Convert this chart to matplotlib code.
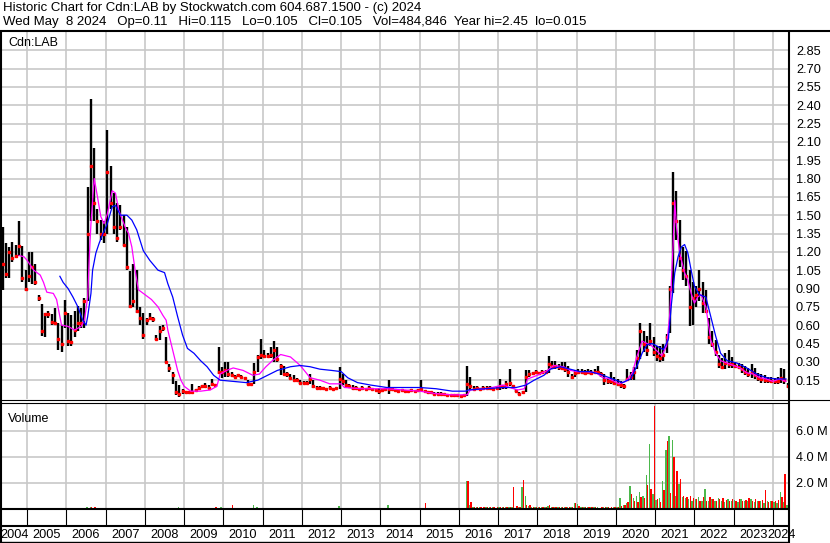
import numpy as np
import matplotlib
matplotlib.use("Agg")
import matplotlib.pyplot as plt
from matplotlib.lines import Line2D

plt.rcParams['font.family'] = ['Liberation Sans', 'DejaVu Sans']

# ---------------- data (monthly, May 2004 .. May 2024) ----------------
years = list(range(2004, 2025))

high = [1.40,1.27,1.24,1.28,1.26,1.45,1.25,1.05,1.20,1.20,
        1.10,0.85,0.77,0.70,0.72,0.69,0.74,0.62,0.60,0.81,
        0.70,0.68,0.72,0.76,0.74,0.82,1.73,2.45,2.05,1.55,
        1.46,1.45,2.20,1.90,1.68,1.60,1.58,1.50,1.40,1.04,
        1.10,1.05,0.75,0.70,0.66,0.70,0.67,0.52,0.59,0.60,
        0.50,0.28,0.22,0.14,0.11,0.08,0.06,0.06,0.12,0.08,
        0.10,0.11,0.13,0.11,0.16,0.12,0.42,0.26,0.30,0.30,
        0.22,0.19,0.20,0.19,0.18,0.15,0.13,0.29,0.36,0.49,
        0.40,0.37,0.42,0.47,0.42,0.28,0.27,0.22,0.20,0.19,
        0.17,0.15,0.14,0.14,0.20,0.15,0.10,0.10,0.09,0.09,
        0.10,0.09,0.09,0.26,0.20,0.15,0.12,0.11,0.10,0.09,
        0.10,0.09,0.10,0.09,0.08,0.09,0.08,0.09,0.15,0.09,
        0.08,0.07,0.08,0.07,0.07,0.08,0.07,0.08,0.15,0.07,
        0.06,0.06,0.05,0.05,0.05,0.045,0.04,0.04,0.035,0.04,
        0.03,0.04,0.27,0.18,0.10,0.10,0.09,0.10,0.10,0.10,
        0.09,0.10,0.16,0.11,0.14,0.24,0.11,0.08,0.05,0.06,
        0.23,0.23,0.22,0.23,0.22,0.23,0.23,0.35,0.31,0.31,
        0.28,0.30,0.30,0.27,0.20,0.23,0.24,0.24,0.23,0.24,
        0.23,0.24,0.27,0.22,0.20,0.16,0.22,0.18,0.16,0.14,
        0.12,0.24,0.22,0.26,0.40,0.62,0.55,0.51,0.62,0.50,
        0.43,0.43,0.45,0.53,0.92,1.85,1.70,1.46,1.24,1.21,
        1.05,0.95,0.92,1.05,0.95,0.89,0.66,0.55,0.48,0.36,
        0.33,0.37,0.40,0.34,0.30,0.29,0.28,0.27,0.25,0.28,
        0.25,0.21,0.20,0.19,0.18,0.18,0.17,0.18,0.25,0.24,0.13]

low = [0.89,0.99,0.99,1.12,1.15,1.17,0.95,0.88,0.95,0.94,
       0.93,0.80,0.51,0.50,0.66,0.60,0.60,0.40,0.38,0.58,
       0.43,0.43,0.50,0.55,0.58,0.58,0.80,1.45,1.45,1.35,
       1.30,1.27,1.35,1.55,1.35,1.28,1.38,1.25,1.05,0.74,
       0.75,0.70,0.60,0.49,0.60,0.64,0.63,0.48,0.48,0.55,
       0.29,0.22,0.12,0.03,0.015,0.04,0.04,0.04,0.04,0.06,
       0.07,0.09,0.09,0.08,0.10,0.10,0.20,0.17,0.18,0.18,
       0.18,0.17,0.18,0.17,0.16,0.11,0.11,0.12,0.22,0.32,
       0.33,0.33,0.33,0.30,0.30,0.19,0.19,0.18,0.16,0.15,
       0.14,0.12,0.12,0.12,0.12,0.09,0.08,0.08,0.075,0.075,
       0.08,0.075,0.08,0.08,0.11,0.09,0.09,0.07,0.08,0.07,
       0.08,0.07,0.08,0.07,0.06,0.04,0.06,0.07,0.04,0.07,
       0.06,0.05,0.06,0.05,0.05,0.06,0.05,0.06,0.06,0.05,
       0.04,0.04,0.03,0.03,0.03,0.025,0.02,0.02,0.015,0.02,
       0.015,0.02,0.02,0.07,0.07,0.07,0.07,0.07,0.08,0.08,
       0.07,0.08,0.07,0.08,0.08,0.10,0.08,0.05,0.03,0.04,
       0.05,0.18,0.19,0.20,0.19,0.20,0.20,0.21,0.24,0.24,
       0.23,0.23,0.22,0.18,0.16,0.18,0.20,0.20,0.19,0.20,
       0.19,0.20,0.20,0.18,0.11,0.12,0.12,0.11,0.10,0.09,
       0.08,0.14,0.15,0.15,0.24,0.32,0.38,0.35,0.43,0.35,
       0.31,0.30,0.31,0.37,0.54,0.86,1.30,1.08,0.97,0.92,
       0.59,0.60,0.75,0.80,0.70,0.70,0.45,0.42,0.35,0.25,
       0.24,0.24,0.25,0.25,0.25,0.24,0.21,0.19,0.18,0.17,
       0.16,0.14,0.13,0.13,0.13,0.13,0.12,0.12,0.13,0.12,0.09]

close = [1.10,1.02,1.20,1.15,1.17,1.25,0.99,0.90,1.00,1.08,
         0.95,0.82,0.55,0.69,0.69,0.63,0.62,0.49,0.45,0.70,
         0.47,0.46,0.56,0.62,0.62,0.80,1.35,1.90,1.60,1.45,
         1.35,1.35,1.85,1.60,1.40,1.31,1.40,1.26,1.08,0.76,
         0.80,0.72,0.66,0.52,0.64,0.66,0.65,0.49,0.55,0.58,
         0.30,0.25,0.19,0.05,0.04,0.06,0.05,0.05,0.05,0.07,
         0.09,0.10,0.10,0.09,0.12,0.11,0.22,0.22,0.23,0.20,
         0.19,0.18,0.19,0.18,0.17,0.12,0.12,0.22,0.34,0.36,
         0.35,0.35,0.36,0.40,0.32,0.27,0.20,0.20,0.17,0.15,
         0.15,0.13,0.13,0.13,0.16,0.10,0.09,0.09,0.085,0.08,
         0.09,0.08,0.085,0.16,0.14,0.11,0.10,0.09,0.09,0.08,
         0.09,0.08,0.09,0.08,0.07,0.06,0.07,0.08,0.08,0.08,
         0.07,0.06,0.07,0.06,0.06,0.07,0.06,0.07,0.08,0.06,
         0.05,0.05,0.04,0.04,0.04,0.035,0.03,0.03,0.025,0.03,
         0.02,0.03,0.12,0.10,0.08,0.09,0.08,0.09,0.09,0.09,
         0.08,0.09,0.10,0.10,0.12,0.13,0.10,0.06,0.04,0.05,
         0.18,0.20,0.21,0.22,0.21,0.22,0.22,0.28,0.27,0.27,
         0.26,0.25,0.24,0.22,0.18,0.21,0.22,0.22,0.21,0.22,
         0.21,0.22,0.22,0.20,0.15,0.14,0.14,0.13,0.12,0.11,
         0.10,0.16,0.18,0.22,0.33,0.55,0.45,0.40,0.47,0.38,
         0.35,0.33,0.36,0.50,0.90,1.60,1.45,1.15,1.05,1.00,
         0.75,0.82,0.85,0.90,0.78,0.72,0.50,0.45,0.38,0.28,
         0.26,0.29,0.28,0.28,0.27,0.26,0.24,0.22,0.20,0.22,
         0.19,0.17,0.16,0.15,0.15,0.14,0.14,0.14,0.17,0.15,0.105]

# short moving average (magenta), read at month positions
ma_fast_pos = [5.5,7,8,10,12,13,14,16,17,18,18.5,20.5,22.5,24.5,25.5,26.5,27,27.5,28.5,29.5,
               30.5,31.5,32.5,34,35,36,38,39,40,41,42,44,46,48,49.5,50.5,51,52,53,54,
               55,56,58,61,64,66,67,69,71,74,77,79,81,83,85.5,88.5,91.5,94.5,97.5,100.5,
               104,105,110,113,118,123,128,133,138,142.5,143.5,148.5,153.5,155.5,158,160,161,164,167,169,
               172,174,176,179,182,184,186,189,191,193,194.5,196,197.5,199,200.5,202,203.5,204.5,205.5,206,
               206.5,207.5,209,210,211,212,213,214,215.5,217,218.5,220,222,224,226,228,230,232,234,236,
               238,240]
ma_fast_val = [1.17,1.16,1.13,1.05,1.01,0.95,0.87,0.86,0.81,0.67,0.60,0.59,0.56,0.59,0.64,0.83,1.16,1.43,1.80,1.65,
               1.49,1.43,1.51,1.70,1.68,1.54,1.40,1.35,1.24,1.05,0.89,0.85,0.81,0.75,0.68,0.64,0.56,0.45,0.34,0.23,
               0.15,0.10,0.06,0.06,0.07,0.10,0.20,0.23,0.25,0.23,0.19,0.20,0.26,0.31,0.36,0.34,0.27,0.17,0.15,0.12,
               0.12,0.09,0.08,0.08,0.08,0.07,0.06,0.04,0.03,0.03,0.07,0.08,0.11,0.09,0.07,0.08,0.16,0.19,0.23,0.27,
               0.26,0.23,0.22,0.22,0.21,0.17,0.16,0.12,0.14,0.21,0.35,0.47,0.45,0.43,0.39,0.35,0.43,0.70,1.27,1.62,
               1.41,1.19,1.03,0.97,0.86,0.78,0.83,0.85,0.75,0.48,0.37,0.31,0.29,0.27,0.25,0.21,0.20,0.17,0.16,0.14,
               0.16,0.14]

# long moving average (blue)
ma_slow_pos = [18,19,20.5,22,23.5,25,26,26.5,27.5,28,29,30,31,32.5,34,35,36.5,38.5,40,41.5,
               43.5,45.5,48,50,51,52.5,54,55.5,57,59,61,63,65,67,71,75,78.5,81.5,84.5,88.5,
               91.5,94.5,97.5,101,104,106,109,113,118,123,128,133,138,142,143,148,153.5,157.5,160.5,163,
               166,168,171,174,177,180,183,187,190,192.5,194.5,196,197.5,199,200.5,202.5,204,205,206,207,
               208,209,210,211,212,213.5,215.5,217,218.5,220,222,225,228,231,234,237,240]
ma_slow_val = [1.00,0.95,0.90,0.83,0.75,0.64,0.60,0.67,0.86,1.05,1.19,1.27,1.34,1.43,1.57,1.58,1.50,1.50,1.46,1.38,
               1.21,1.13,1.05,1.03,0.94,0.83,0.67,0.52,0.41,0.37,0.31,0.26,0.19,0.15,0.14,0.13,0.15,0.19,0.23,0.26,
               0.27,0.26,0.24,0.23,0.22,0.17,0.13,0.11,0.09,0.09,0.09,0.08,0.06,0.06,0.07,0.08,0.09,0.09,0.11,0.15,
               0.19,0.24,0.26,0.24,0.22,0.22,0.20,0.16,0.13,0.16,0.27,0.37,0.44,0.45,0.43,0.40,0.48,0.78,1.03,1.16,
               1.24,1.26,1.19,1.05,0.92,0.85,0.83,0.67,0.51,0.37,0.31,0.29,0.25,0.20,0.17,0.16,0.16]

# volume, millions of shares (largest day per month, up / down days)
vol_up = [.03,.05,.02,.04,.03,.06,.02,.04,.03,.05,
          .04,.02,.05,.03,.06,.02,.04,.03,.05,.02,
          .05,.03,.04,.06,.02,.05,.08,.10,.06,.04,
          .05,.03,.07,.05,.04,.03,.05,.02,.04,.03,
          .04,.05,.03,.06,.02,.04,.03,.05,.02,.04,
          .05,.03,.06,.04,.08,.05,.03,.06,.04,.05,
          .06,.04,.05,.03,.07,.05,.06,.08,.05,.04,
          .05,.06,.04,.05,.03,.06,.04,.30,.08,.05,
          .06,.04,.05,.07,.04,.06,.03,.05,.04,.06,
          .05,.04,.06,.03,.05,.04,.06,.03,.05,.04,
          .04,.06,.05,.16,.05,.04,.06,.03,.05,.04,
          .06,.04,.05,.03,.06,.04,.05,.07,.24,.05,
          .04,.06,.03,.05,.04,.06,.05,.03,.06,.05,
          .04,.06,.05,.03,.06,.04,.05,.03,.06,.04,
          .05,.04,2.1,.30,.10,.08,.12,.07,.10,.08,
          .09,.07,.12,.08,.10,.15,.08,.06,.10,1.65,
          .95,.20,.12,.10,.15,.08,.12,.20,.15,.10,
          .12,.08,.15,.10,.12,.40,.35,.12,.08,.10,
          .08,.10,.12,.07,.10,.08,.06,.10,.15,.80,
          .30,.40,1.7,.80,1.0,1.3,1.0,2.6,5.0,1.1,
          .65,.80,2.1,4.5,5.6,5.3,1.0,1.9,.90,.80,
          .70,.60,.70,.90,.60,1.5,.60,.70,.55,.80,
          .60,.50,.70,.55,.65,.50,.75,.60,.55,.70,
          .50,.60,.55,.45,.60,.55,.50,.45,1.3,.50,.30]
vol_dn = [.04,.03,.05,.02,.06,.03,.05,.03,.04,.02,
          .05,.03,.04,.06,.03,.05,.02,.04,.03,.05,
          .03,.05,.06,.04,.05,.03,.07,.09,.08,.05,
          .04,.06,.05,.04,.06,.03,.04,.05,.03,.06,
          .05,.03,.06,.04,.05,.03,.06,.04,.05,.03,
          .06,.04,.05,.07,.04,.06,.05,.04,.03,.06,
          .04,.05,.06,.04,.05,.08,.06,.05,.04,.06,
          .30,.05,.04,.06,.05,.04,.06,.05,.07,.04,
          .05,.06,.04,.05,.06,.04,.05,.03,.06,.04,
          .06,.03,.05,.04,.06,.05,.03,.05,.04,.06,
          .05,.04,.06,.05,.04,.06,.03,.05,.04,.06,
          .04,.05,.03,.06,.04,.05,.06,.04,.05,.03,
          .06,.04,.05,.03,.06,.04,.05,.06,.04,.40,
          .05,.03,.06,.04,.05,.03,.06,.04,.05,.03,
          .04,.06,2.15,.50,.12,.10,.08,.12,.09,.10,
          .08,.10,.09,.12,.08,.10,1.65,.20,.08,2.2,
          .30,.30,.15,.12,.10,.15,.10,.25,.12,.15,
          .10,.12,.08,.15,.10,.40,.20,.10,.12,.08,
          .10,.08,.06,.10,.08,.12,.10,.08,.10,.20,
          .25,.50,1.15,.60,.50,.90,.80,1.8,1.5,7.9,
          .70,.50,1.4,5.2,1.2,4.0,2.9,2.3,1.0,.90,
          1.0,.80,.70,.60,.90,.60,.85,.75,.60,.70,
          .80,.65,.55,.75,.60,.70,.55,.65,.80,.60,
          .70,.55,.65,1.45,.50,.60,.55,.65,.85,2.65,1.20]

price_ticks = [0.15,0.30,0.45,0.60,0.75,0.90,1.05,1.20,1.35,1.50,1.65,1.80,1.95,2.10,2.25,2.40,2.55,2.70,2.85]
vol_ticks = [2.0, 4.0, 6.0]

title1 = "Historic Chart for Cdn:LAB by Stockwatch.com 604.687.1500 - (c) 2024"
title2 = "Wed May  8 2024   Op=0.11   Hi=0.115   Lo=0.105   Cl=0.105   Vol=484,846  Year hi=2.45  lo=0.015"

# ---------------- layout ----------------
W, H = 830, 543
fig = plt.figure(figsize=(W/100, H/100), dpi=100)

def rect(x0, y0, x1, y1):
    return [x0/W, 1 - y1/H, (x1-x0)/W, (y1-y0)/H]

n = len(close)
xm = np.arange(n) + 0.5
XMAX = 789/3.275
year_bounds = [8 + 12*k for k in range(20)]
GRID = '#c8c8c8'
FS = 9.0
FSN = 9.2

# price panel
ax = fig.add_axes(rect(1, 31, 789, 398.5))
ax.set_xlim(0, XMAX)
ax.set_ylim(0, (398.5-31)/122.2)
for yb in year_bounds:
    ax.axvline(yb, color=GRID, lw=1.2, zorder=0)
for t in price_ticks:
    ax.axhline(t, color=GRID, lw=1.2, zorder=0)
ax.vlines(xm, low, high, color='black', lw=1.7, zorder=2)
ax.plot(xm, close, ls='none', marker='s', ms=2.0, mfc='#ff0000', mec='#ff0000', zorder=3)
ax.plot(ma_fast_pos, ma_fast_val, color='#ff00ff', lw=0.9, zorder=4)
ax.plot(ma_slow_pos, ma_slow_val, color='#0000ff', lw=0.9, zorder=4)
ax.set_xticks([])
ax.yaxis.tick_right()
ax.set_yticks(price_ticks)
ax.set_yticklabels(['%.2f' % t for t in price_ticks])
ax.tick_params(axis='y', length=0, pad=5, labelsize=FSN)
for s in ax.spines.values():
    s.set_visible(False)
ax.text(0.009, 0.968, 'Cdn:LAB', transform=ax.transAxes, fontsize=FS, va='center', ha='left')

# volume panel
av = fig.add_axes(rect(1, 403, 789, 508.5))
av.set_xlim(0, XMAX)
av.set_ylim(0, (508.5-403)/13.0)
for yb in year_bounds:
    av.axvline(yb, color=GRID, lw=1.2, zorder=0)
for t in vol_ticks:
    av.axhline(t, color=GRID, lw=1.2, zorder=0)
av.bar(np.arange(n) + 0.28, vol_up, width=0.42, color='#4cb84c', zorder=2)
av.bar(np.arange(n) + 0.72, vol_dn, width=0.42, color='#ff0000', zorder=2)
av.set_xticks([])
av.yaxis.tick_right()
av.set_yticks(vol_ticks)
av.set_yticklabels(['%.1f M' % t for t in vol_ticks])
av.tick_params(axis='y', length=0, pad=5, labelsize=FSN)
for s in av.spines.values():
    s.set_visible(False)
av.text(0.009, 0.85, 'Volume', transform=av.transAxes, fontsize=FS, va='center', ha='left')

# date strip
ad = fig.add_axes(rect(1, 509, 789, 526))
ad.set_xlim(0, XMAX)
ad.set_ylim(0, 1)
for yb in year_bounds:
    ad.axvline(yb, color='black', lw=0.8)
ad.axis('off')

# year labels
al = fig.add_axes(rect(1, 526, 789, 543))
al.set_xlim(0, XMAX)
al.set_ylim(0, 1)
al.axis('off')
for i, yr in enumerate(years):
    a = 0 if i == 0 else year_bounds[i-1]
    b = year_bounds[i] if i < len(year_bounds) else n
    al.text((a+b)/2, 0.45, str(yr), ha='center', va='center', fontsize=FSN, clip_on=False)

# frame lines in pixel coordinates
ov = fig.add_axes([0, 0, 1, 1], facecolor='none')
ov.set_xlim(0, W)
ov.set_ylim(H, 0)
ov.axis('off')
def line(x0, y0, x1, y1, lw):
    ov.add_line(Line2D([x0, x1], [y0, y1], color='black', lw=lw, solid_capstyle='butt'))
line(0, 30.5, W, 30.5, 1.5)
line(1, 30, 1, H, 1.5)
line(789, 30, 789, H, 1.5)
line(0, 399.5, W, 399.5, 0.8)
line(0, 402.5, 789, 402.5, 0.8)
line(0, 509, 789, 509, 1.5)
line(0, 526, 789, 526, 1.5)
line(0, 542, 789, 542, 1.0)

ov.text(3, 8, title1, fontsize=9.5, va='center', ha='left')
ov.text(3, 22, title2, fontsize=9.5, va='center', ha='left')

fig.savefig('out.png', dpi=100)
